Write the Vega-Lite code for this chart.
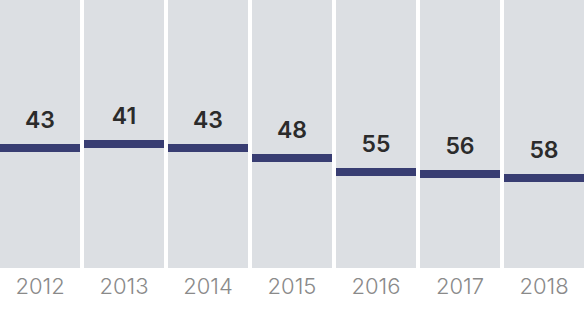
{
  "$schema": "https://vega.github.io/schema/vega-lite/v6.json",
  "width": 584,
  "height": 268,
  "autosize": {"type": "none"},
  "padding": {"top": 0, "left": 0, "right": 0, "bottom": 46},
  "background": "white",
  "config": {"view": {"stroke": null}},
  "data": {"values": [
    {"year": "2012", "value": 43},
    {"year": "2013", "value": 41},
    {"year": "2014", "value": 43},
    {"year": "2015", "value": 48},
    {"year": "2016", "value": 55},
    {"year": "2017", "value": 56},
    {"year": "2018", "value": 58}
  ]},
  "encoding": {
    "x": {
      "field": "year", "type": "ordinal",
      "scale": {"paddingInner": 0.047619, "paddingOuter": 0},
      "axis": {"title": null, "domain": false, "ticks": false, "labelAngle": 0,
        "labelFont": "Inter", "labelFontSize": 22, "labelFontWeight": 300,
        "labelColor": "#8a8a8a", "labelBaseline": "alphabetic", "labelPadding": 25}
    }
  },
  "layer": [
    {
      "mark": {"type": "bar", "color": "#dcdfe3"},
      "encoding": {
        "y": {"datum": -31, "type": "quantitative", "scale": {"domain": [-31, 103], "reverse": true, "nice": false, "zero": false}, "axis": null},
        "y2": {"datum": 103}
      }
    },
    {
      "mark": {"type": "tick", "color": "#383d72", "thickness": 8, "size": 80, "opacity": 1},
      "encoding": {
        "y": {"field": "value", "type": "quantitative"}
      }
    },
    {
      "mark": {"type": "text", "font": "Inter", "fontSize": 23, "fontWeight": 600, "color": "#2b2b2b", "baseline": "alphabetic", "dy": -20},
      "encoding": {
        "y": {"field": "value", "type": "quantitative"},
        "text": {"field": "value", "type": "quantitative"}
      }
    }
  ]
}
